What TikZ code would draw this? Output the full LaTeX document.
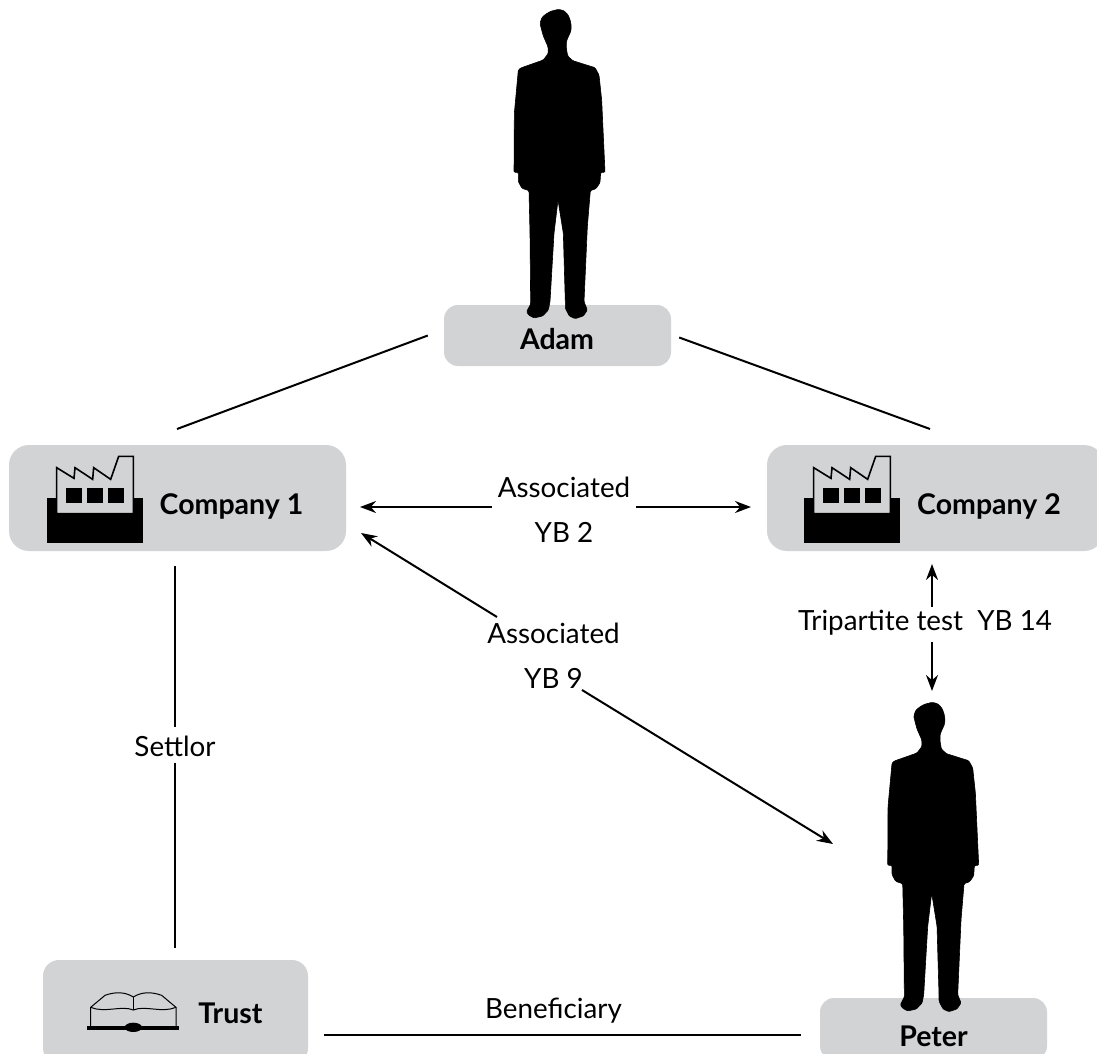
\documentclass[tikz,border=0pt]{standalone}
\usepackage{fontspec}
\setmainfont{Lato}
\usetikzlibrary{arrows.meta,calc}
\definecolor{boxgray}{HTML}{D1D3D4}
\tikzset{
  box/.style={fill=boxgray,rounded corners=#1,inner sep=0pt},
  box/.default=20pt,
  name text/.style={font=\fontsize{28.5}{34}\selectfont\bfseries,inner sep=0pt},
  link text/.style={font=\fontsize{27.8}{45}\selectfont,align=center,inner sep=0pt},
  link/.style={line width=2pt},
  arw/.style={line width=2pt,-{Stealth[length=16pt,width=12pt]}},
  person/.pic={
    \draw [fill=black,draw=black,line width=.6pt,rounded corners=1.2pt,scale=1/3]
      (235,28)--(252,32)--(265,46)--(271,62)--(274,80)--(272,95)--(264,112)--(259,125)--(259,145)--(263,168)--(278,182)--(345,203)--(357,225)--(365,300)--(375,517)
      --(362,517)--(360,548)--(348,566)--(331,572)--(322,680)--(312,905)--(322,930)--(310,948)--(285,956)--(268,948)--(256,925)--(256,908)
      --(250,700)--(234,600)--(222,700)--(210,905)--(205,930)--(188,948)--(162,954)--(146,945)--(140,935)--(152,912)--(150,700)--(147,572)
      --(126,565)--(115,545)--(115,517)--(102,517)--(103,340)--(115,210)--(122,204)--(190,180)--(205,160)--(204,140)--(190,108)
      --(185,90)--(180,70)--(186,52)--(198,42)--(212,34)--cycle;
  },
  factory/.pic={
    \begin{scope}[scale=1/3]
    \fill (141,173) rectangle (429,308);
    \draw [fill=boxgray,line width=1.6pt] (170,221)--(170,83)--(222,115)--(225,83)--(278,118)--(281,83)--(332,118)--(356,49)--(400,49)--(400,221)--cycle;
    \fill (197,145) rectangle (245,190);
    \fill (260,145) rectangle (308,190);
    \fill (323,145) rectangle (372,190);
    \end{scope}
  },
  book/.pic={
    \begin{scope}[scale=1/3]
    \draw [line width=1pt] (182,232)--(182,172)--(225,136) .. controls (255,125) and (285,125) .. (310,141) .. controls (335,125) and (365,125) .. (395,136)--(438,172)--(438,232);
    \draw [line width=1pt] (182,172) .. controls (225,190) and (275,165) .. (310,180) .. controls (345,165) and (395,190) .. (438,172);
    \draw [line width=1pt] (310,141)--(310,180);
    \fill (172,228) rectangle (446,241);
    \fill (310,232) ellipse (26 and 14);
    \end{scope}
  }
}
\begin{document}
\begin{tikzpicture}[x=1pt,y=-1pt]
\useasboundingbox (0,0) rectangle (1097,1054);
\clip (0,0) rectangle (1097,1054);

\node [box=14pt,minimum width=227pt,minimum height=61pt] (adam) at (557.5,335.5) {};
\node [box,minimum width=337pt,minimum height=106pt] (company1) at (177.5,498) {};
\node [box,minimum width=337pt,minimum height=106pt] (company2) at (935.5,498) {};
\node [box=16pt,minimum width=265pt,minimum height=104pt] (trust) at (175.5,1012) {};
\node [box=14pt,minimum width=227pt,minimum height=62pt] (peter) at (933.5,1029) {};

\pic at (480,0) {person};
\pic at (853.7,693) {person};
\pic at (0,440) {factory};
\pic at (757,440) {factory};
\pic at (30,950) {book};

\node [name text] (adamtext) at (557,339) {Adam};
\node [name text] (company1text) at (231.5,506) {Company 1};
\node [name text] (company2text) at (989,506) {Company 2};
\node [name text] (trusttext) at (230.5,1013) {Trust};
\node [name text] (petertext) at (933.5,1036) {Peter};

\node [link text] (assoc2) at (564,510) {Associated\\YB 2};
\node [link text] (assoc9) at (553.5,656) {Associated\\YB 9};
\node [link text] (tripartite) at (925,623) {Tripartite test~~YB 14};
\node [link text] (settlor) at (175,746) {Settlor};
\node [link text] (beneficiary) at (553.5,1011) {Beneficiary};

\coordinate (adamL) at ([xshift=-16pt]adam.west);
\coordinate (adamR) at ([xshift=8pt,yshift=-2pt]adam.east);
\coordinate (company1T) at (177,429);
\coordinate (company2T) at (930,429);
\draw [link] (adamL)--(company1T);
\draw [link] (adamR)--(company2T);

\draw [arw,shorten <=6pt] (assoc2.west |- 0,507)--(360,507);
\draw [arw,shorten <=6pt] (assoc2.east |- 0,507)--(751,507);
\draw [arw] (497,617)--(361,533);
\draw [arw] (582,690)--(833,844);
\draw [arw] (932,607)--(932,564);
\draw [arw] (932,642)--(932,691);
\draw [link,shorten >=8pt] (175,566)--(settlor.north);
\draw [link,shorten <=6pt] (settlor.south)--(175,948);
\draw [link] (324,1035)--(801,1035);
\end{tikzpicture}
\end{document}
